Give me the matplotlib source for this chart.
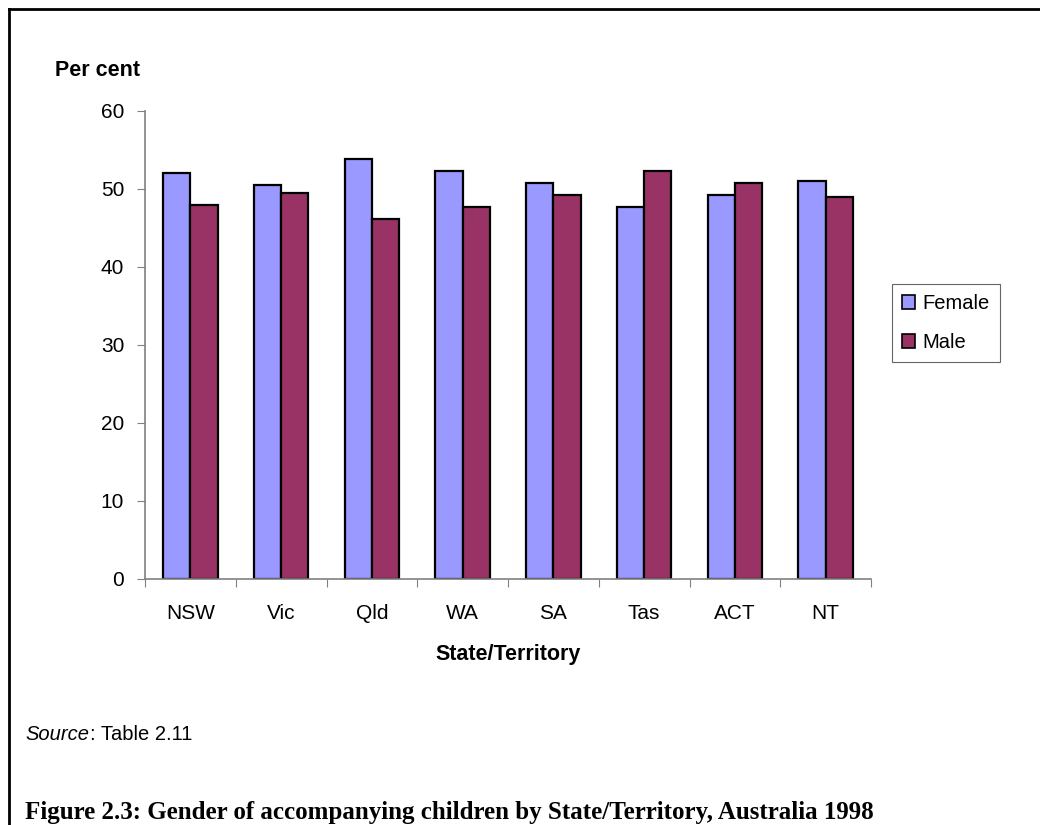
import numpy as np
import matplotlib.pyplot as plt
from matplotlib.lines import Line2D

# values (per cent)
states = ["NSW", "Vic", "Qld", "WA", "SA", "Tas", "ACT", "NT"]
female = [52.0, 50.5, 53.8, 52.3, 50.8, 47.7, 49.2, 51.0]
male = [48.0, 49.5, 46.2, 47.7, 49.2, 52.3, 50.8, 49.0]
yticks = [0, 10, 20, 30, 40, 50, 60]

FEMALE_C = "#9999FF"
MALE_C = "#993366"
AXIS_C = "#808080"

plt.rcParams["font.family"] = ["Liberation Sans", "DejaVu Sans"]

fig = plt.figure(figsize=(10.4, 8.25), dpi=100)
ax = fig.add_axes([145 / 1040, 1 - 579 / 825, 726 / 1040, 468 / 825])

x = np.arange(len(states))
w = 0.30
ax.bar(x - w / 2, female, w, color=FEMALE_C, edgecolor="black", linewidth=1.6, label="Female")
ax.bar(x + w / 2, male, w, color=MALE_C, edgecolor="black", linewidth=1.6, label="Male")

ax.set_xlim(-0.5, len(states) - 0.5)
ax.set_ylim(0, 60)
ax.set_yticks(yticks)
ax.set_yticklabels([str(v) for v in yticks], fontsize=15)

# category labels at centres, tick marks at boundaries
ax.set_xticks(np.arange(len(states) + 1) - 0.5)
ax.set_xticklabels([])
ax.set_xticks(x, minor=True)
ax.set_xticklabels(states, minor=True, fontsize=15)
ax.tick_params(axis="x", which="minor", length=0, pad=18)
ax.tick_params(axis="x", which="major", length=6, color=AXIS_C, direction="out")
ax.tick_params(axis="y", length=6, color=AXIS_C, direction="out", pad=9)

for side in ["top", "right"]:
    ax.spines[side].set_visible(False)
for side in ["left", "bottom"]:
    ax.spines[side].set_color(AXIS_C)
    ax.spines[side].set_linewidth(1.2)

ax.set_xlabel("State/Territory", fontsize=15.5, fontweight="bold", labelpad=15)

fig.text(55 / 1040, 1 - 71 / 825, "Per cent", fontsize=15.5, fontweight="bold", va="center")

leg = ax.legend(loc="center left", bbox_to_anchor=(892 / 1040, 1 - 323 / 825),
                bbox_transform=fig.transFigure, fontsize=14.5, frameon=True, fancybox=False,
                handlelength=0.65, handleheight=0.65, handletextpad=0.35, labelspacing=1.0,
                borderpad=0.5, borderaxespad=0, edgecolor="#404040")
leg.get_frame().set_linewidth(0.8)
for h in leg.legend_handles:
    h.set_linewidth(1.2)

src = fig.text(25 / 1040, 1 - 735 / 825, "Source", fontsize=14.5, style="italic", va="center")
ax.annotate(": Table 2.11", xy=(1, 0.5), xycoords=src, xytext=(1, 0),
            textcoords="offset points", fontsize=14.5, va="center", annotation_clip=False)

fig.text(25 / 1040, 1 - 812 / 825,
         "Figure 2.3: Gender of accompanying children by State/Territory, Australia 1998",
         fontsize=18, fontweight="bold", family=["Liberation Serif", "DejaVu Serif"], va="center")

# outer frame (top and left edges visible in the reference)
fig.add_artist(Line2D([9 / 1040, 9 / 1040], [0, 1 - 9 / 825], transform=fig.transFigure,
                      color="black", linewidth=2))
fig.add_artist(Line2D([9 / 1040, 1.0], [1 - 9 / 825, 1 - 9 / 825], transform=fig.transFigure,
                      color="black", linewidth=2))

fig.savefig("out.png", dpi=100)
